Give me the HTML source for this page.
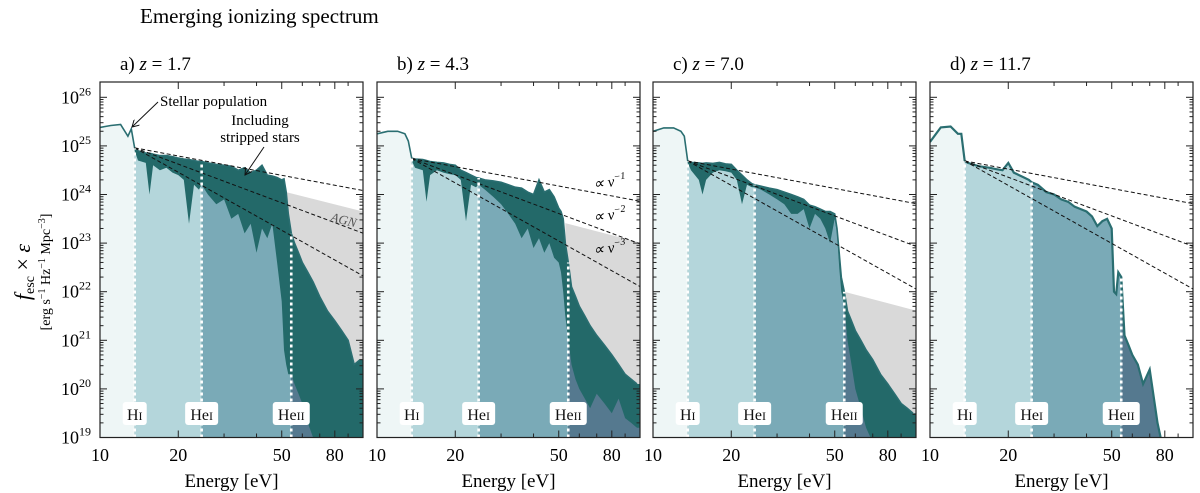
<!DOCTYPE html>
<html><head><meta charset="utf-8">
<style>
html,body{margin:0;padding:0;background:#fff;}
svg{display:block;font-family:"Liberation Serif",serif;}
</style></head>
<body>
<svg id="chart" width="1200" height="493" viewBox="0 0 1200 493" xmlns="http://www.w3.org/2000/svg">
<text x="140" y="23" font-size="21">Emerging ionizing spectrum</text>
<g>
<text x="30" y="272" font-size="22" text-anchor="middle" transform="rotate(-90 30 272)"><tspan font-style="italic">f</tspan><tspan font-size="14" dy="4">esc</tspan><tspan dy="-4"> × </tspan><tspan font-style="italic">ε</tspan></text>
<text x="50" y="272" font-size="14" text-anchor="middle" transform="rotate(-90 50 272)">[erg s<tspan font-size="10" dy="-5">−1</tspan><tspan dy="5"> Hz</tspan><tspan font-size="10" dy="-5">−1</tspan><tspan dy="5"> Mpc</tspan><tspan font-size="10" dy="-5">−3</tspan><tspan dy="5">]</tspan></text>
</g>
</svg>
<script>
const energies=[10,11,12,12.8,13.2,13.6,14,15,15.5,16,17,18,19,20,21,22,23,24,24.6,26,28,30,32,34,36,38,40,42,44,46,48,50,51,52,53,54.4,56,58,60,63,66,70,75,80,85,90,95,100];
const totA=[25.38,25.42,25.44,25.2,25.35,24.95,24.9,24.85,24.85,24.83,24.8,24.8,24.78,24.75,24.73,24.72,24.7,24.68,24.68,24.65,24.62,24.6,24.58,24.5,24.55,24.45,24.5,24.6,24.4,24.38,24.35,24.3,24.32,24.05,23.6,23.2,23.0,22.8,22.6,22.4,22.2,21.9,21.6,21.4,21.2,21.0,20.5,20.6];
const popA=[25.38,25.42,25.44,25.2,25.35,24.9,24.7,24.65,24.0,24.6,24.5,24.55,24.45,24.4,24.3,23.4,24.2,24.1,24.2,24.0,23.8,23.9,23.5,23.6,23.2,23.4,22.8,23.3,23.1,23.4,22.6,21.8,20.8,20.5,20.3,20.3,20.1,19.9,19.7,19.3,19.0,18.8,18.8,18.8,18.8,18.8,18.8,18.8];
const totB=[25.25,25.3,25.3,25.25,25.1,24.75,24.73,24.72,24.7,24.68,24.66,24.65,24.62,24.6,24.5,24.45,24.4,24.35,24.34,24.3,24.28,24.25,24.2,24.15,24.13,24.05,24.0,24.3,24.05,24.1,23.95,23.72,23.65,23.5,23.0,22.6,22.1,21.9,21.7,21.5,21.3,21.1,20.9,20.7,20.5,20.3,20.2,20.1];
const popB=[25.25,25.3,25.3,25.25,25.1,24.7,24.55,24.5,23.85,24.4,24.5,24.45,24.42,24.4,24.3,23.45,24.2,24.15,24.2,24.1,23.95,23.8,23.6,23.4,23.1,23.3,22.9,23.1,22.8,23.0,22.7,22.6,22.4,22.0,21.5,21.0,20.5,20.2,20.0,19.8,19.6,19.9,19.7,19.5,19.8,19.4,19.3,19.2];
const totC=[25.3,25.37,25.37,25.3,25.2,24.69,24.66,24.65,24.64,24.65,24.64,24.66,24.63,24.62,24.5,24.4,24.3,24.22,24.2,24.17,24.13,24.1,24.05,24.0,23.95,23.9,23.78,23.75,23.7,23.65,23.65,23.6,23.3,22.8,22.3,22.0,21.6,21.4,21.2,21.0,20.8,20.6,20.3,20.1,19.9,19.7,19.6,19.5];
const popC=[25.3,25.37,25.37,25.3,25.2,24.65,24.5,24.3,24.0,24.3,24.45,24.5,24.48,24.45,24.3,23.8,24.2,24.15,24.15,24.1,24.0,23.9,23.8,23.6,23.6,23.7,23.3,23.6,23.5,23.3,23.0,23.5,23.2,22.5,22.0,21.7,21.0,20.5,20.0,19.6,19.2,18.9,18.8,18.8,18.8,18.8,18.8,18.8];
const totD=[25.08,25.38,25.4,25.25,25.25,24.69,24.65,24.6,24.58,24.57,24.55,24.52,24.5,24.65,24.45,24.4,24.35,24.3,24.25,24.2,24.05,24.0,23.9,23.85,23.75,23.7,23.65,23.55,23.35,23.45,23.5,23.3,22.0,21.95,22.4,22.3,21.1,20.9,20.7,20.5,20.1,20.4,19.3,18.6,18.6,18.6,18.6,18.6];
const popD=totD;
const panelLabels=["a)","b)","c)","d)"];
const redshifts=["1.7","4.3","7.0","11.7"];
const powerStart=[24.96,24.74,24.69,24.69];
const powerSlopes=[-1,-2,-3];
const agnStartE=[52,53,54.4,null];
const agnTopStart=[24.05,23.41,22.0,null];
const agnTopEnd=[23.64,23.0,21.6,null];
const edges=[13.6,24.6,54.4];
const edgeNames=[["H","I"],["He","I"],["He","II"]];
const xTickVals=[20,30,40,50,60,70,80,90];
const xTickLabels=["10","20","50","80"];
const xTickLabelVals=[10,20,50,80];
const yTickLabels=["19","20","21","22","23","24","25","26"];

const NS="http://www.w3.org/2000/svg";
const svg=document.getElementById('chart');
const panelLeft=[100,377,653,930];
const PW=263, TOP=82, BOT=437.5, XK=260, YK=48.6;
const tots=[totA,totB,totC,totD], pops=[popA,popB,popC,popD];
const regionColors=["#eef6f6","#b4d6db","#7aaab7","#55798f"];
function mk(tag,attrs,parent){const e=document.createElementNS(NS,tag);for(const k in attrs)e.setAttribute(k,attrs[k]);(parent||svg).appendChild(e);return e;}
function yS(v){return BOT-(v-19)*YK;}

for(let p=0;p<4;p++){
  const L=panelLeft[p];
  const xS=e=>L+(Math.log10(e)-1)*XK;
  const g=mk('g',{});
  
  
  const defs=mk('defs',{},g);
  const cp=mk('clipPath',{id:'clip'+p},defs);
  mk('rect',{x:L,y:TOP,width:PW,height:BOT-TOP},cp);
  const bounds=[10,13.6,24.6,54.4,200];
  for(let r=0;r<4;r++){
    const c=mk('clipPath',{id:'rc'+p+'_'+r},defs);
    const x0=Math.max(L,xS(bounds[r])),x1=Math.min(L+PW,xS(bounds[r+1]));
    mk('rect',{x:x0,y:TOP,width:x1-x0,height:BOT-TOP},c);
  }
  const inner=mk('g',{'clip-path':'url(#clip'+p+')'},g);
  if(agnStartE[p]!==null){
    const agn=mk('polygon',{points:[[xS(agnStartE[p]),yS(agnTopStart[p])],[xS(100)+5,yS(agnTopEnd[p])],[xS(100)+5,BOT],[xS(agnStartE[p]),BOT]].map(a=>a.join(',')).join(' '),fill:'#d9d9d9'},inner);
    
    
  }
  const areaPath=arr=>{let d='M'+xS(energies[0])+','+(BOT+5);energies.forEach((e,i)=>{d+=' L'+xS(e).toFixed(1)+','+yS(arr[i]).toFixed(1);});d+=' L'+(xS(100)+5)+','+yS(arr[arr.length-1]).toFixed(1)+' L'+(xS(100)+5)+','+(BOT+5)+'Z';return d;};
  const linePath=arr=>{let d='';energies.forEach((e,i)=>{d+=(i?' L':'M')+xS(e).toFixed(1)+','+yS(arr[i]).toFixed(1);});return d;};
  if(p<3){
    const tf=mk('path',{d:areaPath(tots[p]),fill:'#236969'},inner);
    
    
  }
  for(let r=0;r<4;r++){
    const pf=mk('path',{d:areaPath(pops[p]),fill:regionColors[r],'clip-path':'url(#rc'+p+'_'+r+')'},inner);
    
    
  }
  const ln=mk('path',{d:linePath(tots[p]),fill:'none',stroke:'#2a6e71','stroke-width':p===3?2.2:1.6},inner);
  
  
  powerSlopes.forEach((s,i)=>{
    const pl=mk('line',{x1:xS(13.6),y1:yS(powerStart[p]),x2:xS(110),y2:yS(powerStart[p]+s*Math.log10(110/13.6)),stroke:'#111','stroke-width':1,'stroke-dasharray':'4,2.5'},inner);
    
    
  });
  edges.forEach((e,i)=>{
    const idx=energies.indexOf(e);
    const el=mk('line',{x1:xS(e),y1:BOT,x2:xS(e),y2:yS(tots[p][idx]),stroke:'#fff','stroke-width':2.6,'stroke-dasharray':'3,3'},inner);
    
    
    const w=i===0?24:(i===1?33:37);
    const bx=mk('rect',{x:xS(e)-w/2,y:402,width:w,height:23,rx:3,fill:'#fff'},g);
    
    
    const t=mk('text',{x:xS(e),y:420,'font-size':16,'text-anchor':'middle',fill:'#111'},g);
    
    
    t.appendChild(document.createTextNode(edgeNames[i][0]));
    const ts=mk('tspan',{'font-size':12},t);ts.textContent=edgeNames[i][1];
  });
  const fr=mk('rect',{x:L,y:TOP,width:PW,height:BOT-TOP,fill:'none',stroke:'#222','stroke-width':1.2},g);
  
  
  xTickVals.forEach(v=>{const x=xS(v);const len=[20,50,80].includes(v)?7:4;
    mk('line',{x1:x,y1:BOT,x2:x,y2:BOT-len,stroke:'#222','stroke-width':1},g);
    mk('line',{x1:x,y1:TOP,x2:x,y2:TOP+len,stroke:'#222','stroke-width':1},g);});
  xTickLabelVals.forEach((v,i)=>{const t=mk('text',{x:xS(v),y:461,'font-size':18,'text-anchor':'middle'},g);
    
    
    t.textContent=xTickLabels[i];});
  const xl=mk('text',{x:L+PW/2,y:487,'font-size':19,'text-anchor':'middle'},g);
  
  
  xl.textContent='Energy [eV]';
  for(let d=19;d<=26;d++){
    for(let m=1;m<10;m++){const v=d+Math.log10(m);if(v>26.27)break;const y=yS(v);const len=m===1?7:3.5;
      mk('line',{x1:L,y1:y,x2:L+len,y2:y,stroke:'#222','stroke-width':1},g);
      mk('line',{x1:L+PW,y1:y,x2:L+PW-len,y2:y,stroke:'#222','stroke-width':1},g);}
  }
  if(p===0){
    yTickLabels.forEach((lab,i)=>{const t=mk('text',{x:91,y:yS(19+i)+6,'font-size':18,'text-anchor':'end'},g);
      
      
      t.appendChild(document.createTextNode('10'));const s=mk('tspan',{'font-size':12,dy:-8},t);s.textContent=lab;});
  }
  const pt=mk('text',{x:L+20,y:70,'font-size':19},g);
  
  
  pt.appendChild(document.createTextNode(panelLabels[p]+' '));
  const zi=mk('tspan',{'font-style':'italic'},pt);zi.textContent='z';
  pt.appendChild(document.createTextNode(' = '+redshifts[p]));
}
const ann=mk('g',{});


mk('defs',{},ann).innerHTML='<marker id="ah" markerWidth="8" markerHeight="8" refX="7" refY="4" orient="auto"><path d="M0,0 L7,4 L0,8" fill="none" stroke="#111" stroke-width="1"/></marker>';
let t=mk('text',{x:160,y:106,'font-size':15},ann);t.textContent='Stellar population';
mk('line',{x1:158,y1:102,x2:132,y2:127,stroke:'#111','stroke-width':1,'marker-end':'url(#ah)'},ann);
t=mk('text',{x:260,y:125,'font-size':15,'text-anchor':'middle'},ann);t.textContent='Including';
t=mk('text',{x:260,y:142,'font-size':15,'text-anchor':'middle'},ann);t.textContent='stripped stars';
mk('line',{x1:264,y1:147,x2:245,y2:175,stroke:'#111','stroke-width':1,'marker-end':'url(#ah)'},ann);
t=mk('text',{x:330,y:221,'font-size':13,'font-style':'italic',fill:'#555',transform:'rotate(14 330 221)'},ann);t.textContent='AGN';
const plLabels=[["1",189],["2",222],["3",255]];
plLabels.forEach(([n,y])=>{const tt=mk('text',{x:594,y:y,'font-size':15,'font-style':'italic',transform:'rotate(-8 594 '+y+')'},ann);
  tt.appendChild(document.createTextNode('∝ ν'));const s=mk('tspan',{'font-size':10,dy:-6},tt);s.textContent='−'+n;});
</script>
</body></html>
